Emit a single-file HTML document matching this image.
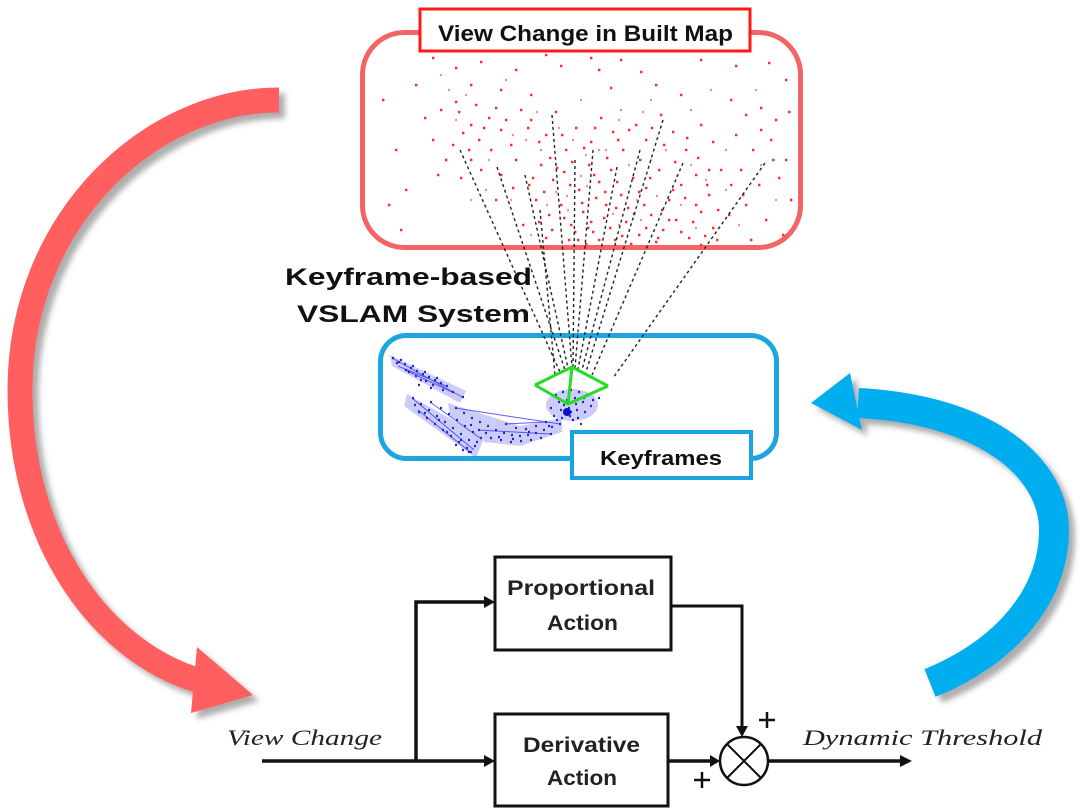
<!DOCTYPE html>
<html><head><meta charset="utf-8"><style>html,body{margin:0;padding:0;background:#fff;width:1080px;height:812px;overflow:hidden}</style></head>
<body>
<svg width="1080" height="812" viewBox="0 0 1080 812" xmlns="http://www.w3.org/2000/svg">
<defs>
<filter id="sh" x="-20%" y="-20%" width="140%" height="140%">
<feDropShadow dx="6" dy="6" stdDeviation="3" flood-color="#777" flood-opacity="0.6"/>
</filter>
</defs>

<!-- Red curved arrow -->
<g filter="url(#sh)">
<path d="M279,100 C150,100 20,220 20,390 C20,540 100,650 197,680" fill="none" stroke="#ff5f5f" stroke-width="25"/>
<polygon points="197,647 253,695 191,713" fill="#ff5f5f"/>
</g>

<!-- Blue curved arrow -->
<g filter="url(#sh)">
<path d="M930,683 C1000,655 1054,600 1054,530 C1054,470 990,410 858,403" fill="none" stroke="#00aeef" stroke-width="30"/>
<polygon points="811,403 850,373 862,430" fill="#00aeef"/>
</g>

<!-- Red map box -->
<rect x="362.5" y="32.5" width="438" height="215" rx="42" fill="#fff" stroke="#f56464" stroke-width="5"/>

<!-- red dots -->
<path fill="none" stroke="#ff2a2a" stroke-width="2.4" d="M432,58h2.4M455,68h2.4M480,62h2.4M515,70h2.4M545,55h2.4M560,66h2.4M590,58h2.4M598,70h2.4M610,88h2.4M640,72h2.4M655,85h2.4M700,60h2.4M735,66h2.4M768,63h2.4M785,80h2.4M470,85h2.4M500,90h2.4M530,95h2.4M620,60h2.4M680,95h2.4
M424,118h2.4M440,110h2.4M455,102h2.4M470,125h2.4M462,133h2.4M478,140h2.4M488,118h2.4M500,130h2.4M452,145h2.4M445,160h2.4M468,150h2.4M490,150h2.4M510,145h2.4M520,110h2.4M480,170h2.4M460,178h2.4M500,175h2.4M437,175h2.4M515,160h2.4M495,108h2.4M432,140h2.4M475,105h2.4
M530,120h2.4M545,135h2.4M555,112h2.4M565,150h2.4M575,128h2.4M590,142h2.4M600,118h2.4M612,132h2.4M622,150h2.4M635,125h2.4M645,140h2.4M660,115h2.4M672,132h2.4M685,150h2.4M700,125h2.4M712,142h2.4M540,165h2.4M552,180h2.4M563,172h2.4M578,190h2.4M588,165h2.4M598,182h2.4M610,170h2.4M620,195h2.4M632,178h2.4M645,188h2.4M658,170h2.4M668,200h2.4M680,185h2.4M695,175h2.4M708,195h2.4M720,170h2.4
M535,200h2.4M548,215h2.4M560,205h2.4M570,225h2.4M582,212h2.4M592,232h2.4M603,218h2.4M614,240h2.4M625,222h2.4M638,235h2.4M650,215h2.4M662,230h2.4M675,220h2.4M688,238h2.4M700,212h2.4M712,228h2.4M545,238h2.4M568,240h2.4M585,244h2.4M630,244h2.4M655,242h2.4M595,198h2.4M605,205h2.4M615,208h2.4M577,240h2.4M590,222h2.4M643,205h2.4M528,185h2.4M522,225h2.4M700,245h2.4
M730,100h2.4M745,115h2.4M760,108h2.4M775,120h2.4M788,112h2.4M735,135h2.4M752,150h2.4M770,140h2.4M785,160h2.4M740,170h2.4M758,185h2.4M778,178h2.4M790,200h2.4M745,205h2.4M765,220h2.4M782,235h2.4M728,215h2.4M750,240h2.4
M382,100h2.4M395,150h2.4M405,190h2.4M388,205h2.4M415,85h2.4M400,230h2.4
M527,128h2.4M538,142h2.4M549,158h2.4M561,135h2.4M571,162h2.4M583,148h2.4M594,128h2.4M606,158h2.4M617,140h2.4M628,130h2.4M639,160h2.4M651,128h2.4M663,145h2.4M674,162h2.4M686,138h2.4M697,158h2.4M708,170h2.4M532,178h2.4M543,192h2.4M556,168h2.4M569,185h2.4M581,203h2.4M593,175h2.4M604,192h2.4M616,182h2.4M627,208h2.4M638,192h2.4M649,178h2.4M661,210h2.4M672,190h2.4M684,198h2.4M695,205h2.4M706,185h2.4M717,210h2.4M538,222h2.4M551,230h2.4M563,218h2.4M574,232h2.4M587,228h2.4M598,240h2.4M609,228h2.4M621,236h2.4M633,214h2.4M645,228h2.4M657,238h2.4M668,220h2.4M680,232h2.4M692,222h2.4M704,236h2.4M716,240h2.4M470,160h2.4M483,128h2.4M458,112h2.4M505,120h2.4M512,188h2.4M495,200h2.4M730,185h2.4M742,195h2.4M760,130h2.4M772,160h2.4"/>
<path fill="none" stroke="#ff8c8c" stroke-width="2.2" d="M440,75h2M465,95h2M505,80h2M525,140h2M540,150h2M558,128h2M572,140h2M585,155h2M605,150h2M628,165h2M650,160h2M665,150h2M690,165h2M705,180h2M725,190h2M738,225h2M555,192h2M567,210h2M580,176h2M618,225h2M640,220h2M680,205h2M695,228h2M725,150h2M760,165h2M775,200h2M485,190h2M470,200h2M510,200h2M530,235h2M455,120h2M448,90h2M620,110h2M650,100h2M580,100h2M690,110h2M710,90h2M755,90h2M546,205h2M566,196h2M586,186h2M612,214h2M636,200h2M656,196h2M676,176h2M598,150h2M618,120h2M642,112h2M536,112h2M512,135h2M488,160h2"/>

<!-- title box -->
<rect x="420" y="9" width="330" height="42" fill="#fff" stroke="#ff1a1a" stroke-width="3"/>
<text x="438" y="41" font-family="Liberation Sans, sans-serif" font-weight="bold" font-size="22" fill="#111" textLength="295" lengthAdjust="spacingAndGlyphs">View Change in Built Map</text>

<!-- Blue keyframe box -->
<rect x="380.5" y="335.5" width="396" height="123" rx="26" fill="none" stroke="#1ea5e0" stroke-width="5"/>

<!-- fan lines -->
<g stroke="#222" stroke-width="1.4" stroke-dasharray="3,3" fill="none">
<path d="M460,150 L560,372"/>
<path d="M497,167 L565,370"/>
<path d="M525,175 L568,368"/>
<path d="M552,115 L572,367"/>
<path d="M575,160 L573,368"/>
<path d="M593,150 L575,368"/>
<path d="M617,167 L578,369"/>
<path d="M640,150 L582,370"/>
<path d="M663,120 L586,372"/>
<path d="M683,163 L592,375"/>
<path d="M765,163 L613,378"/>
<path d="M540,210 L555,375"/>
</g>

<!-- blue scatter haze -->
<g fill="#4a4ae8" opacity="0.28">
<polygon points="390,355 466,391 460,403 392,366"/>
<polygon points="407,394 484,438 476,458 404,406"/>
<polygon points="448,403 520,426 562,418 562,432 520,446 485,442 450,416"/>
<ellipse cx="572" cy="405" rx="26" ry="16"/>
</g>
<g stroke="#3a3ae6" stroke-width="1" opacity="0.8">
<path d="M392,358 L462,397 M398,366 L446,386 M405,370 L452,392 M412,398 L474,450 M418,410 L470,452 M430,402 L480,438 M455,408 L560,424 M478,430 L550,434 M505,424 L545,422"/>
</g>
<path fill="none" stroke="#2323dd" stroke-width="2.2" d="M392,358h2M398,362h2M404,364h2M410,368h2M416,371h2M422,374h2M428,377h2M434,380h2M440,383h2M446,386h2M400,360h2M412,366h2M424,372h2M436,378h2M405,370h2M415,376h2M425,381h2M418,385h2M430,388h2M442,390h2M452,392h2M462,397h2
M412,398h2M420,404h2M428,410h2M436,416h2M444,422h2M452,428h2M460,434h2M468,440h2M474,446h2M418,412h2M426,418h2M434,424h2M442,430h2M450,436h2M458,442h2M466,448h2M430,402h2M440,408h2M448,414h2M456,420h2M464,426h2M472,432h2M480,438h2M470,452h2M462,450h2M455,445h2
M455,408h2M463,413h2M471,418h2M479,422h2M487,426h2M495,430h2M503,433h2M511,435h2M519,436h2M527,435h2M535,433h2M543,430h2M551,427h2M559,424h2M490,438h2M500,440h2M510,442h2M520,441h2M530,440h2M540,438h2M550,434h2M478,430h2M470,425h2M505,424h2M515,428h2M525,429h2M535,426h2M545,422h2
M555,395h2M562,392h2M570,390h2M578,392h2M586,395h2M592,400h2M558,402h2M566,400h2M574,398h2M582,402h2M590,406h2M560,410h2M568,408h2M576,410h2M584,412h2M553,416h2M561,418h2M569,416h2M577,418h2M565,412h2M568,414h2M570,412h2M572,420h2M580,424h2M550,408h2M598,398h2
M396,363h2M408,372h2M420,380h2M432,385h2M414,405h2M424,413h2M438,420h2M446,432h2M460,440h2M468,452h2M476,442h2M485,433h2M498,437h2M512,439h2M528,432h2M548,426h2M556,420h2M575,404h2M583,398h2M563,405h2"/>
<circle cx="567" cy="412" r="4" fill="#1010cc"/>

<!-- green camera frustum -->
<g stroke="#22dd22" stroke-width="3" fill="none" stroke-linejoin="round">
<path d="M535,385 L572,367 L608,386"/>
<path d="M535,385 L568,404 L608,386 M572,367 L568,404"/>
</g>

<!-- keyframes label box -->
<rect x="572" y="432" width="179" height="46" fill="#fff" stroke="#1aa3df" stroke-width="4"/>
<text x="600" y="465" font-family="Liberation Sans, sans-serif" font-weight="bold" font-size="20" fill="#111" textLength="122" lengthAdjust="spacingAndGlyphs">Keyframes</text>

<!-- Keyframe-based VSLAM System -->
<text x="285" y="285" font-family="Liberation Sans, sans-serif" font-weight="bold" font-size="24" fill="#111" textLength="247" lengthAdjust="spacingAndGlyphs">Keyframe-based</text>
<text x="297" y="322" font-family="Liberation Sans, sans-serif" font-weight="bold" font-size="24" fill="#111" textLength="233" lengthAdjust="spacingAndGlyphs">VSLAM System</text>

<!-- Block diagram -->
<g fill="none" stroke="#111">
<rect x="495" y="557" width="176" height="93" stroke-width="3"/>
<rect x="495" y="714" width="173" height="92" stroke-width="3"/>
<path d="M262,761 H486" stroke-width="3.5"/>
<path d="M416,761 V602 H486" stroke-width="3.5"/>
<path d="M671,606 H742 V728" stroke-width="3"/>
<path d="M668,761 H712" stroke-width="3.5"/>
<path d="M768,761 H902" stroke-width="3.5"/>
<circle cx="744" cy="761" r="24" stroke-width="2.5"/>
<path d="M727,744 L761,778 M761,744 L727,778" stroke-width="2"/>
<path d="M759,720 H775 M767,712 V728 M694,780 H710 M702,772 V788" stroke-width="2.5"/>
</g>
<g fill="#111">
<polygon points="484,755 495,761 484,767"/>
<polygon points="484,596 495,602 484,608"/>
<polygon points="736,726 742,737 748,726"/>
<polygon points="710,755 720,761 710,767"/>
<polygon points="900,755 912,761 900,767"/>
</g>

<g font-family="Liberation Sans, sans-serif" font-weight="bold" font-size="21" fill="#222">
<text x="507" y="595" textLength="148" lengthAdjust="spacingAndGlyphs">Proportional</text>
<text x="547" y="630" textLength="71" lengthAdjust="spacingAndGlyphs">Action</text>
<text x="523" y="752" textLength="117" lengthAdjust="spacingAndGlyphs">Derivative</text>
<text x="547" y="785" textLength="70" lengthAdjust="spacingAndGlyphs">Action</text>
</g>

<g font-family="Liberation Serif, serif" font-style="italic" font-size="22" fill="#222">
<text x="227" y="745" textLength="155" lengthAdjust="spacingAndGlyphs">View Change</text>
<text x="803" y="745" textLength="239" lengthAdjust="spacingAndGlyphs">Dynamic Threshold</text>
</g>
</svg>
</body></html>
